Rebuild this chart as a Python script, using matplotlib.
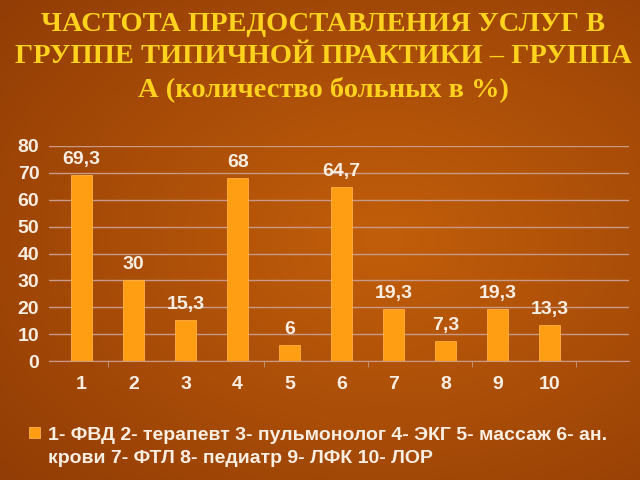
import numpy as np
import matplotlib.pyplot as plt
from matplotlib.patches import Rectangle

# данные с диаграммы
kategorie = ["1", "2", "3", "4", "5", "6", "7", "8", "9", "10"]
wartosci = [69.3, 30, 15.3, 68, 6, 64.7, 19.3, 7.3, 19.3, 13.3]
y_ticks = [0, 10, 20, 30, 40, 50, 60, 70, 80]

tytul = ("ЧАСТОТА ПРЕДОСТАВЛЕНИЯ УСЛУГ В\n"
         "ГРУППЕ ТИПИЧНОЙ ПРАКТИКИ – ГРУППА\n"
         "А (количество больных в %)")
legenda = ("1- ФВД 2- терапевт 3- пульмонолог 4- ЭКГ 5- массаж 6- ан.\n"
           "крови 7- ФТЛ 8- педиатр 9- ЛФК 10- ЛОР")

fig = plt.figure(figsize=(6.4, 4.8), dpi=100)

# tło - gradient pomarańczowy
bg = fig.add_axes([0, 0, 1, 1], zorder=-1)
yy, xx = np.mgrid[0:1:240j, 0:1:320j]
r = np.sqrt(((xx - 0.6) / 0.85) ** 2 + ((yy - 0.5) / 0.8) ** 2)
r = np.clip(r, 0, 1)
c_in = np.array([0.76, 0.37, 0.04])
c_out = np.array([0.56, 0.23, 0.02])
img = c_in[None, None, :] * (1 - r[..., None]) + c_out[None, None, :] * r[..., None]
bg.imshow(img, aspect="auto", extent=[0, 1, 0, 1])
bg.axis("off")

ax = fig.add_axes([49 / 640, 1 - 361 / 480, 580 / 640, 215 / 480])
ax.set_facecolor("none")

x = np.arange(1, len(wartosci) + 1)
ax.bar(x, wartosci, width=0.4, color="#FF9E12", edgecolor="#FFB040", linewidth=0.6, zorder=3)

for xi, v in zip(x, wartosci):
    etykieta = f"{v:g}".replace(".", ",")
    ax.annotate(etykieta, (xi, v), xytext=(0, 5), textcoords="offset points",
                ha="center", va="bottom", color="#F8EEE2", fontsize=14,
                fontweight="bold", family="Liberation Sans", zorder=4)

ax.set_xlim(0.375, 11.52)
ax.set_ylim(0, 80)
ax.set_yticks(y_ticks)
ax.set_xticks(x)
ax.set_xticklabels(kategorie)
ax.set_xticks([1.5, 4.5, 6.5, 8.5, 10.5], minor=True)
ax.tick_params(axis="x", which="major", length=0, pad=11)
ax.tick_params(axis="x", which="minor", length=4, color="#C89A86", direction="out")
ax.tick_params(axis="y", length=0, pad=7)
for lab in ax.get_xticklabels() + ax.get_yticklabels():
    lab.set_color("#F8EEE2")
    lab.set_fontsize(14)
    lab.set_fontweight("bold")
    lab.set_family("Liberation Sans")

ax.grid(axis="y", color="#C99A88", linewidth=1, zorder=0)
for s in ["top", "right", "left"]:
    ax.spines[s].set_visible(False)
ax.spines["bottom"].set_color("#C99A88")

fig.text(0.505, 1 - 57 / 480, tytul, ha="center", va="center", color="#FFD21E",
         fontsize=20.5, fontweight="bold", family="Liberation Serif", linespacing=1.38)

fig.patches.append(Rectangle((29 / 640, 1 - 438 / 480), 11 / 640, 11 / 480,
                             transform=fig.transFigure, facecolor="#FF9E12",
                             edgecolor="#FFC060", linewidth=0.5))
fig.text(48 / 640, 1 - 447 / 480, legenda, ha="left", va="center", color="#F8EEE2",
         fontsize=14, fontweight="bold", family="Liberation Sans", linespacing=1.45)

fig.savefig("out.png", dpi=100)
